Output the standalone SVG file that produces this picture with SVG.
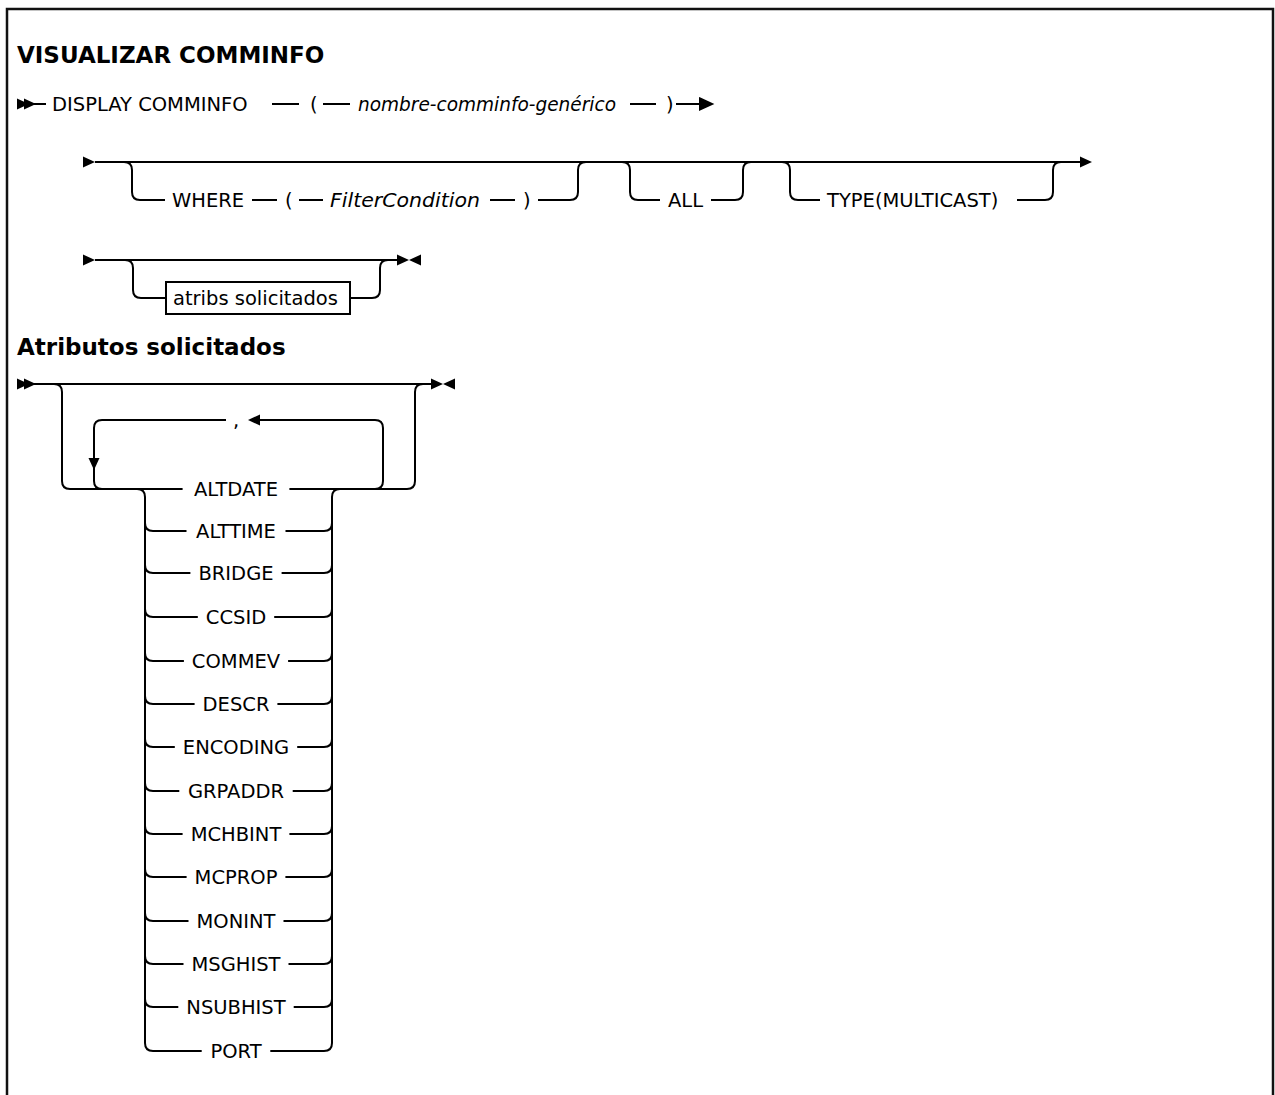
<svg xmlns="http://www.w3.org/2000/svg" xmlns:xlink="http://www.w3.org/1999/xlink" width="1275" height="1095" viewBox="0 0 1275 1095">
<style>
.ln{fill:none;stroke:#000;stroke-width:2}
.t{font-family:"DejaVu Sans",sans-serif;font-size:19.5px;fill:#000}
.i{font-style:italic}
.m{text-anchor:middle}
.h{font-family:"DejaVu Sans",sans-serif;font-weight:bold;font-size:23px;fill:#000}
.box{fill:#fff;stroke:#000;stroke-width:2}
</style>
<defs>
<polygon id="tr" points="0,-5.5 12,0 0,5.5" fill="#000"/>
<polygon id="tl" points="12,-5.5 0,0 12,5.5" fill="#000"/>
<polygon id="td" points="-5.5,0 5.5,0 0,12" fill="#000"/>
</defs>
<rect width="1275" height="1095" fill="#fff"/>
<path d="M7,1095 V9 H1273 V1095" fill="none" stroke="#111" stroke-width="2.5"/>

<g id="title"><text class="h" x="17" y="63">VISUALIZAR COMMINFO</text></g>

<g id="row1">
<use xlink:href="#tr" x="17" y="104"/><use xlink:href="#tr" x="24" y="104"/>
<text class="t" x="52" y="111">DISPLAY COMMINFO</text>
<text class="t" x="310" y="111">(</text>
<text class="t i" x="358" y="111" textLength="258" lengthAdjust="spacingAndGlyphs">nombre-comminfo-genérico</text>
<text class="t" x="666" y="111">)</text>
</g>

<g id="row2">
<use xlink:href="#tr" x="83" y="162"/>
<use xlink:href="#tr" x="1080" y="162"/>
<g id="where"><text class="t" x="172" y="207">WHERE</text><text class="t" x="285" y="207">(</text><text class="t i" x="330" y="207" textLength="150" lengthAdjust="spacingAndGlyphs">FilterCondition</text><text class="t" x="523" y="207">)</text></g>
<g id="all"><text class="t" x="668" y="207">ALL</text></g>
<g id="type"><text class="t" x="827" y="207">TYPE(MULTICAST)</text></g>
</g>

<g id="row3">
<use xlink:href="#tr" x="83" y="260"/>
<use xlink:href="#tr" x="397" y="260"/><use xlink:href="#tl" x="409" y="260"/>
<g id="atribs"><rect class="box" x="166" y="282" width="184" height="32"/><text class="t" x="173" y="305">atribs solicitados</text></g>
</g>

<g id="heading2"><text class="h" x="17" y="355">Atributos solicitados</text></g>

<g id="attrs">
<use xlink:href="#tr" x="17" y="384"/><use xlink:href="#tr" x="24" y="384"/>
<use xlink:href="#tr" x="431" y="384"/><use xlink:href="#tl" x="443" y="384"/>
<text class="t m" x="236" y="427">,</text>
<use xlink:href="#tl" x="248" y="420"/>
<use xlink:href="#td" x="94" y="458"/>
<text class="t m" x="236" y="496">ALTDATE</text>
<text class="t m" x="236" y="538">ALTTIME</text>
<text class="t m" x="236" y="580">BRIDGE</text>
<text class="t m" x="236" y="624">CCSID</text>
<text class="t m" x="236" y="668">COMMEV</text>
<text class="t m" x="236" y="711">DESCR</text>
<text class="t m" x="236" y="754">ENCODING</text>
<text class="t m" x="236" y="798">GRPADDR</text>
<text class="t m" x="236" y="841">MCHBINT</text>
<text class="t m" x="236" y="884">MCPROP</text>
<text class="t m" x="236" y="928">MONINT</text>
<text class="t m" x="236" y="971">MSGHIST</text>
<text class="t m" x="236" y="1014">NSUBHIST</text>
<text class="t m" x="236" y="1058">PORT</text>
</g>

<g id="connectors" class="ln">
<path d="M34,104 H46 M272,104 H299 M323,104 H350 M630,104 H656 M676,104 H701"/>
<use xlink:href="#tr" x="700" y="104"/>
<path d="M95,162 H1081"/>
<path d="M124,162 Q132,162 132,170 V192 Q132,200 140,200 H165 M252,200 H277 M299,200 H323 M490,200 H515 M538,200 H570 Q578,200 578,192 V170 Q578,162 586,162"/>
<path d="M622,162 Q630,162 630,170 V192 Q630,200 638,200 H660 M711,200 H735 Q743,200 743,192 V170 Q743,162 751,162"/>
<path d="M782,162 Q790,162 790,170 V192 Q790,200 798,200 H820 M1017,200 H1045 Q1053,200 1053,192 V170 Q1053,162 1061,162"/>
<path d="M95,260 H398"/>
<path d="M125,260 Q133,260 133,268 V290 Q133,298 141,298 H166 M350,298 H372 Q380,298 380,290 V268 Q380,260 388,260"/>
<path d="M34,384 H432"/>
<path d="M54,384 Q62,384 62,392 V481 Q62,489 70,489 H182.6 M289.4,489 H407 Q415,489 415,481 V392 Q415,384 423,384"/>
<path d="M94,481 Q94,489 102,489 M94,481 V428 Q94,420 102,420 H226 M260,420 H375 Q383,420 383,428 V481 Q383,489 375,489"/>
<path d="M137,489 Q145,489 145,497 V1043 M340,489 Q332,489 332,497 V1043"/>
<path d="M145,523 Q145,531 153,531 H186.5 M285.5,531 H324 Q332,531 332,523"/>
<path d="M145,565 Q145,573 153,573 H190.4 M281.6,573 H324 Q332,573 332,565"/>
<path d="M145,609 Q145,617 153,617 H197.8 M274.2,617 H324 Q332,617 332,609"/>
<path d="M145,653 Q145,661 153,661 H183.9 M288.1,661 H324 Q332,661 332,653"/>
<path d="M145,696 Q145,704 153,704 H194.6 M277.4,704 H324 Q332,704 332,696"/>
<path d="M145,739 Q145,747 153,747 H174.8 M297.2,747 H324 Q332,747 332,739"/>
<path d="M145,783 Q145,791 153,791 H179.3 M292.7,791 H324 Q332,791 332,783"/>
<path d="M145,826 Q145,834 153,834 H182.6 M289.4,834 H324 Q332,834 332,826"/>
<path d="M145,869 Q145,877 153,877 H186.6 M285.4,877 H324 Q332,877 332,869"/>
<path d="M145,913 Q145,921 153,921 H188.5 M283.5,921 H324 Q332,921 332,913"/>
<path d="M145,956 Q145,964 153,964 H183.5 M288.5,964 H324 Q332,964 332,956"/>
<path d="M145,999 Q145,1007 153,1007 H178.3 M293.7,1007 H324 Q332,1007 332,999"/>
<path d="M145,1043 Q145,1051 153,1051 H201.7 M270.3,1051 H324 Q332,1051 332,1043"/>
</g>
</svg>
